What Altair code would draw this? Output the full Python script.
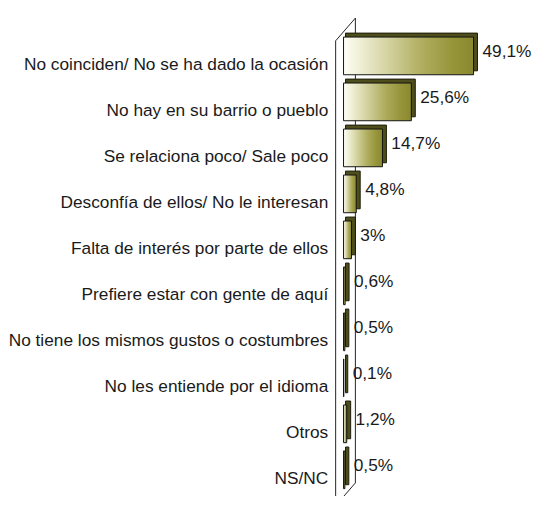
import altair as alt
import pandas as pd

cats = [
    "No coinciden/ No se ha dado la ocasión",
    "No hay en su barrio o pueblo",
    "Se relaciona poco/ Sale poco",
    "Desconfía de ellos/ No le interesan",
    "Falta de interés por parte de ellos",
    "Prefiere estar con gente de aquí",
    "No tiene los mismos gustos o costumbres",
    "No les entiende por el idioma",
    "Otros",
    "NS/NC",
]
values = [49.1, 25.6, 14.7, 4.8, 3.0, 0.6, 0.5, 0.1, 1.2, 0.5]
labels = ["49,1%", "25,6%", "14,7%", "4,8%", "3%", "0,6%", "0,5%", "0,1%", "1,2%", "0,5%"]

W, H = 161, 466
FONT = "Liberation Sans"

df = pd.DataFrame({"cat": cats, "value": values, "label": labels, "base": [0.0] * len(cats)})

xscale = alt.Scale(domain=[0, 60], nice=False, zero=True)
yenc = alt.Y(
    "cat:N",
    sort=cats,
    scale=alt.Scale(paddingInner=0.18, paddingOuter=0.09),
    axis=alt.Axis(
        title=None, ticks=False, domain=False, labelFont=FONT, labelFontSize=17.5,
        labelColor="#1a1a1a", labelPadding=8, offset=8, labelOffset=9, labelLimit=400,
    ),
)

grad = alt.Gradient(
    gradient="linear",
    stops=[
        alt.GradientStop(color="#fffff6", offset=0),
        alt.GradientStop(color="#d9d8aa", offset=0.3),
        alt.GradientStop(color="#b0ae60", offset=0.6),
        alt.GradientStop(color="#959439", offset=0.85),
        alt.GradientStop(color="#8a8930", offset=1),
    ],
    x1=0, x2=1, y1=0, y2=0,
)

base = alt.Chart(df)

side = base.mark_bar(
    fill="#4e4d1c", stroke="#1c1c0a", strokeWidth=1,
    xOffset=2, x2Offset=4, yOffset=-4, y2Offset=-4,
).encode(
    x=alt.X("base:Q", scale=xscale, axis=None),
    x2="value:Q",
    y=yenc,
)

face = base.mark_bar(fill=grad, stroke="#111111", strokeWidth=1).encode(
    x=alt.X("base:Q", scale=xscale, axis=None),
    x2="value:Q",
    y=yenc,
)

text = base.mark_text(
    align="left", baseline="middle", dx=9, dy=-4, font=FONT, fontSize=17.5, color="#1a1a1a"
).encode(
    x=alt.X("value:Q", scale=xscale, axis=None),
    y=yenc,
    text="label:N",
)

dec = alt.Chart(pd.DataFrame({"k": [0]}))
rule_style = dict(color="#222222", strokeWidth=1)
back_line = dec.mark_rule(**rule_style).encode(x=alt.value(12), y=alt.value(-15), y2=alt.value(H - 10))
front_line = dec.mark_rule(**rule_style).encode(x=alt.value(-8), y=alt.value(8), y2=alt.value(H + 30))
top_diag = dec.mark_rule(**rule_style).encode(
    x=alt.value(-8), x2=alt.value(12), y=alt.value(8), y2=alt.value(-15)
)
bot_diag = dec.mark_rule(**rule_style).encode(
    x=alt.value(-8), x2=alt.value(12), y=alt.value(H + 13), y2=alt.value(H - 10)
)

chart = (
    alt.layer(back_line, front_line, top_diag, bot_diag, side, face, text)
    .properties(
        width=W, height=H, autosize="none",
        padding={"left": 340, "top": 22, "right": 33, "bottom": 0},
    )
    .configure_view(stroke=None)
)

chart.save("out.html", embed_options={"renderer": "svg", "actions": False})
